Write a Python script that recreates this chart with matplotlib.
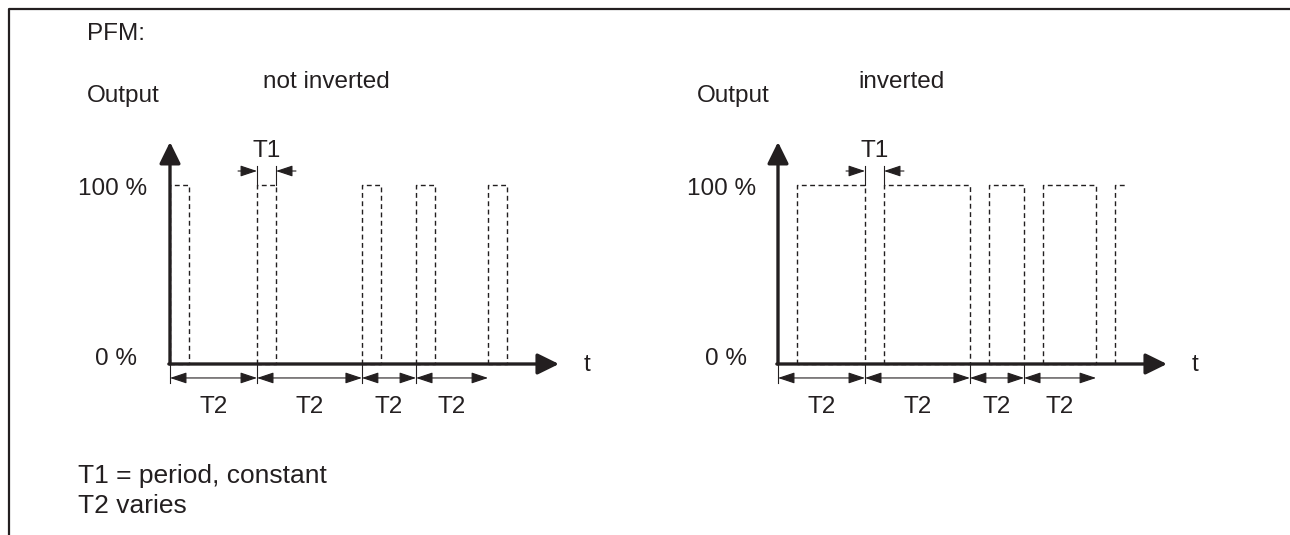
import matplotlib
matplotlib.use("Agg")
import matplotlib.pyplot as plt

plt.rcParams["font.family"] = ["Liberation Sans", "DejaVu Sans"]

# time in units of T1 (the constant pulse period), output in %
T1 = 1.0
pulse_starts = [0.0, 4.58, 10.1, 12.95, 16.74]   # start of each T2 interval
t_axis_end = 20.47
inverted_tail = 18.3                               # last high level is cut off here
high_level = 100
axis_top = 124

W, H = 1290, 535
INK = "#231f20"

fig = plt.figure(figsize=(W / 100, H / 100), dpi=100)

# full-figure layer in pixel coordinates for frame and headings
base = fig.add_axes([0, 0, 1, 1])
base.set_xlim(0, W)
base.set_ylim(H, 0)
base.axis("off")
base.plot([9, 9, W], [H, 9, 9], color=INK, lw=1.6, solid_capstyle="butt")

fs = 17.5
base.text(87, 40, "PFM:", fontsize=fs, color=INK)
base.text(78, 483, "T1 = period, constant", fontsize=19, color=INK)
base.text(78, 513, "T2 varies", fontsize=19, color=INK)

panels = [
    dict(x0=170, title="not inverted", tx=326, out_x=87, p100=78, p0=95, inverted=False),
    dict(x0=778, title="inverted", tx=902, out_x=697, p100=687, p0=705, inverted=True),
]
y_axis0, y_axis_top = 364, 142
px_per_unit = 19.0

small_head = dict(lw=0.8, color=INK, shrinkA=0, shrinkB=0, mutation_scale=17)

for p in panels:
    base.text(p["tx"], 88, p["title"], fontsize=fs, color=INK, ha="center")
    base.text(p["out_x"], 102, "Output", fontsize=fs, color=INK)
    base.text(p["p100"], 195, "100 %", fontsize=fs, color=INK)
    base.text(p["p0"], 365, "0 %", fontsize=fs, color=INK)

    width_px = t_axis_end * px_per_unit
    ax = fig.add_axes([p["x0"] / W, (H - y_axis0) / H,
                       width_px / W, (y_axis0 - y_axis_top) / H])
    ax.set_xlim(0, t_axis_end)
    ax.set_ylim(0, axis_top)
    ax.axis("off")

    # axes with arrow heads
    ax.annotate("", xy=(0, axis_top), xytext=(0, 0),
                arrowprops=dict(arrowstyle="-|>,head_length=0.65,head_width=0.32",
                                lw=2.4, color=INK, shrinkA=0, shrinkB=0,
                                mutation_scale=20), annotation_clip=False)
    ax.annotate("", xy=(t_axis_end, 0), xytext=(-0.06, 0),
                arrowprops=dict(arrowstyle="-|>,head_length=0.65,head_width=0.32",
                                lw=2.4, color=INK, shrinkA=0, shrinkB=0,
                                mutation_scale=20), annotation_clip=False)
    ax.text(t_axis_end + 1.5, -4, "t", fontsize=fs, color=INK,
            ha="center", va="baseline", clip_on=False)

    dash = dict(color=INK, lw=1.0, ls=(0, (3.5, 2.5)), clip_on=False)
    if not p["inverted"]:
        for s in pulse_starts:
            ax.plot([s, s, s + T1, s + T1, s], [0, high_level, high_level, 0, 0], **dash)
    else:
        ends = pulse_starts[1:] + [None]
        for s, e in zip(pulse_starts, ends):
            a = s + T1
            if e is None:
                ax.plot([a, a, inverted_tail], [0, high_level, high_level], **dash)
            else:
                ax.plot([a, a, e, e, a], [0, high_level, high_level, 0, 0], **dash)

    # T2 dimension arrows
    for a, b in zip(pulse_starts[:-1], pulse_starts[1:]):
        ax.annotate("", xy=(b, -7.8), xytext=(a, -7.8),
                    arrowprops=dict(arrowstyle="<|-|>,head_length=0.6,head_width=0.2",
                                    **small_head), annotation_clip=False)
        ax.text((a + b) / 2, -27.5, "T2", fontsize=fs, color=INK,
                ha="center", va="baseline", clip_on=False)
    for s in pulse_starts[:-1]:
        ax.plot([s, s], [0, -10.6], color=INK, lw=0.8, clip_on=False)

    # T1 dimension on the second pulse
    s = pulse_starts[1]
    for xv in (s, s + T1):
        ax.plot([xv, xv], [high_level, 110.5], color=INK, lw=0.8, clip_on=False)
    ax.annotate("", xy=(s, 107.8), xytext=(s - 1.0, 107.8),
                arrowprops=dict(arrowstyle="-|>,head_length=0.6,head_width=0.2",
                                **small_head), annotation_clip=False)
    ax.annotate("", xy=(s + T1, 107.8), xytext=(s + T1 + 1.05, 107.8),
                arrowprops=dict(arrowstyle="-|>,head_length=0.6,head_width=0.2",
                                **small_head), annotation_clip=False)
    ax.text(s + T1 / 2, 115.6, "T1", fontsize=fs, color=INK,
            ha="center", va="baseline", clip_on=False)

fig.savefig("out.png", dpi=100)
